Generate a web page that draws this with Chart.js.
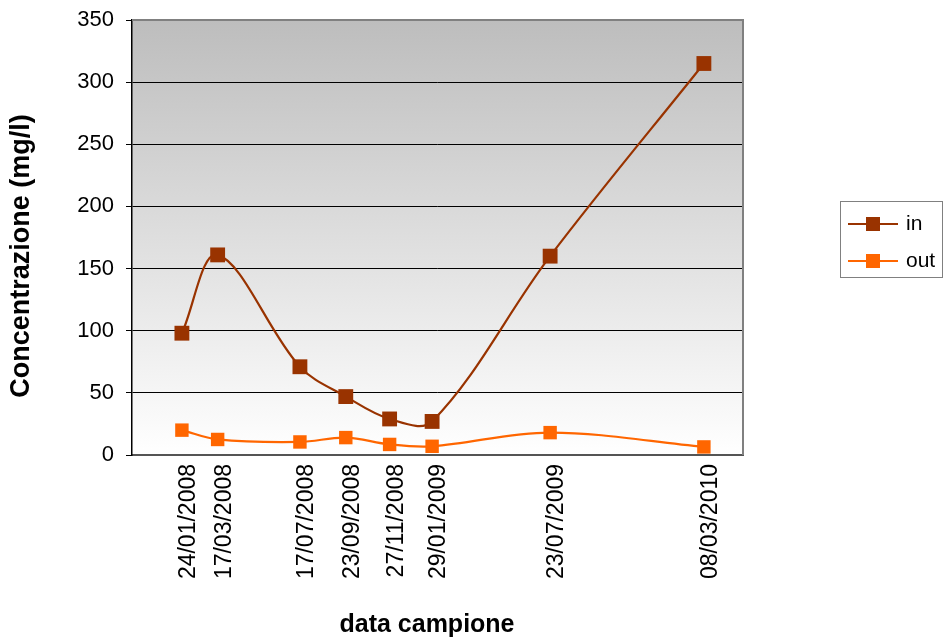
<!DOCTYPE html>
<html>
<head>
<meta charset="utf-8">
<script src="https://cdn.jsdelivr.net/npm/chart.js@4.4.0/dist/chart.umd.min.js"></script>
<style>
  html, body { margin: 0; padding: 0; background: #ffffff; }
  #wrap { width: 948px; height: 643px; }
</style>
</head>
<body>
<div id="wrap"><canvas id="c" width="948" height="643"></canvas></div>
<script>
// ---- data ----
const sampleDates = ['24/01/2008','17/03/2008','17/07/2008','23/09/2008','27/11/2008','29/01/2009','23/07/2009','08/03/2010'];
const inValues  = [98, 161, 71, 47, 29, 27, 160, 315];
const outValues = [20, 12.5, 10.5, 14, 8.5, 7, 18, 6.5];
const seriesNames = ['in', 'out'];
const yTicks = [0, 50, 100, 150, 200, 250, 300, 350];
const yTitle = 'Concentrazione (mg/l)';
const xTitle = 'data campione';

// date -> days since first sample
function toUTC(s) { const p = s.split('/'); return Date.UTC(+p[2], +p[1] - 1, +p[0]); }
const t0 = toUTC(sampleDates[0]);
const dayOffsets = sampleDates.map(d => Math.round((toUTC(d) - t0) / 86400000));

const inColor = '#993300';
const outColor = '#FF6600';
const FONT = '"Liberation Sans", Arial, sans-serif';

const bgPlugin = {
  id: 'bg',
  beforeDraw(chart) {
    const { ctx, chartArea: a } = chart;
    const g = ctx.createLinearGradient(0, a.top, 0, a.bottom);
    g.addColorStop(0, '#bdbdbd');
    g.addColorStop(1, '#ffffff');
    ctx.save();
    ctx.fillStyle = g;
    ctx.fillRect(a.left, a.top, a.right - a.left, a.bottom - a.top);
    ctx.restore();
  },
  beforeDatasetsDraw(chart) {
    const { ctx, chartArea: a } = chart;
    ctx.save();
    ctx.strokeStyle = '#808080';
    ctx.lineWidth = 2;
    ctx.beginPath();
    ctx.moveTo(a.left, a.top);
    ctx.lineTo(a.right, a.top);
    ctx.lineTo(a.right, a.bottom);
    ctx.stroke();
    ctx.restore();
  },
  afterDraw(chart) {
    const { ctx } = chart;
    ctx.save();
    // axis titles
    ctx.fillStyle = '#000';
    ctx.font = 'bold 27px ' + FONT;
    ctx.textAlign = 'center';
    ctx.textBaseline = 'middle';
    ctx.translate(22, 256);
    ctx.rotate(-Math.PI / 2);
    ctx.fillText(yTitle, 0, 0);
    ctx.setTransform(1, 0, 0, 1, 0, 0);
    ctx.font = 'bold 25px ' + FONT;
    ctx.fillText(xTitle, 427, 625);

    // legend
    const bx = 840.5, by = 201.5, bw = 102, bh = 76;
    ctx.strokeStyle = '#808080';
    ctx.lineWidth = 1;
    ctx.strokeRect(bx, by, bw, bh);
    const rows = [224, 261];
    const cols = [inColor, outColor];
    chart.data.datasets.forEach((ds, i) => {
      const y = rows[i];
      ctx.strokeStyle = cols[i];
      ctx.lineWidth = 2;
      ctx.beginPath();
      ctx.moveTo(848, y);
      ctx.lineTo(898, y);
      ctx.stroke();
      ctx.fillStyle = cols[i];
      ctx.fillRect(873 - 7, y - 7, 14, 14);
      ctx.fillStyle = '#000';
      ctx.font = '21px ' + FONT;
      ctx.textAlign = 'left';
      ctx.textBaseline = 'middle';
      ctx.fillText(ds.label, 906, y);
    });
    ctx.restore();
  }
};

const inData = dayOffsets.map((x, i) => ({ x: x, y: inValues[i] }));
const outData = dayOffsets.map((x, i) => ({ x: x, y: outValues[i] }));

new Chart(document.getElementById('c'), {
  type: 'line',
  data: {
    datasets: [
      {
        label: seriesNames[0], data: inData,
        borderColor: inColor, backgroundColor: inColor, borderWidth: 2.2,
        pointStyle: 'rect', pointRadius: 10.5, pointBorderWidth: 0,
        pointBackgroundColor: inColor, tension: 0.35, fill: false
      },
      {
        label: seriesNames[1], data: outData,
        borderColor: outColor, backgroundColor: outColor, borderWidth: 2.2,
        pointStyle: 'rect', pointRadius: 9.5, pointBorderWidth: 0,
        pointBackgroundColor: outColor, tension: 0.35, fill: false
      }
    ]
  },
  options: {
    responsive: false,
    animation: false,
    devicePixelRatio: 1,
    layout: { padding: { left: 0, right: 205, top: 20, bottom: 0 } },
    plugins: { legend: { display: false }, tooltip: { enabled: false }, title: { display: false } },
    scales: {
      x: {
        type: 'linear',
        min: -74, max: 832,
        afterFit(scale) { scale.height = 188; scale.paddingLeft = 0; scale.paddingRight = 0; },
        afterBuildTicks(scale) { scale.ticks = dayOffsets.map(v => ({ value: v })); },
        grid: { display: false, drawTicks: false },
        border: { display: true, color: '#555555', width: 2 },
        ticks: {
          autoSkip: false,
          maxRotation: 90, minRotation: 90,
          padding: 9,
          labelOffset: 7,
          color: '#000',
          font: { family: FONT, size: 23 },
          callback(value) { const i = dayOffsets.indexOf(value); return i >= 0 ? sampleDates[i] : ''; }
        }
      },
      y: {
        min: 0, max: 350,
        afterFit(scale) { scale.width = 132; scale.paddingTop = 0; scale.paddingBottom = 0; },
        afterBuildTicks(scale) { scale.ticks = yTicks.map(v => ({ value: v })); },
        grid: { color: '#000000', lineWidth: 1, drawTicks: true, tickLength: 6, tickColor: '#000000' },
        border: { display: true, color: '#000000', width: 1.5 },
        ticks: {
          padding: 12,
          color: '#000',
          font: { family: FONT, size: 22 }
        }
      }
    }
  },
  plugins: [bgPlugin]
});
</script>
</body>
</html>
